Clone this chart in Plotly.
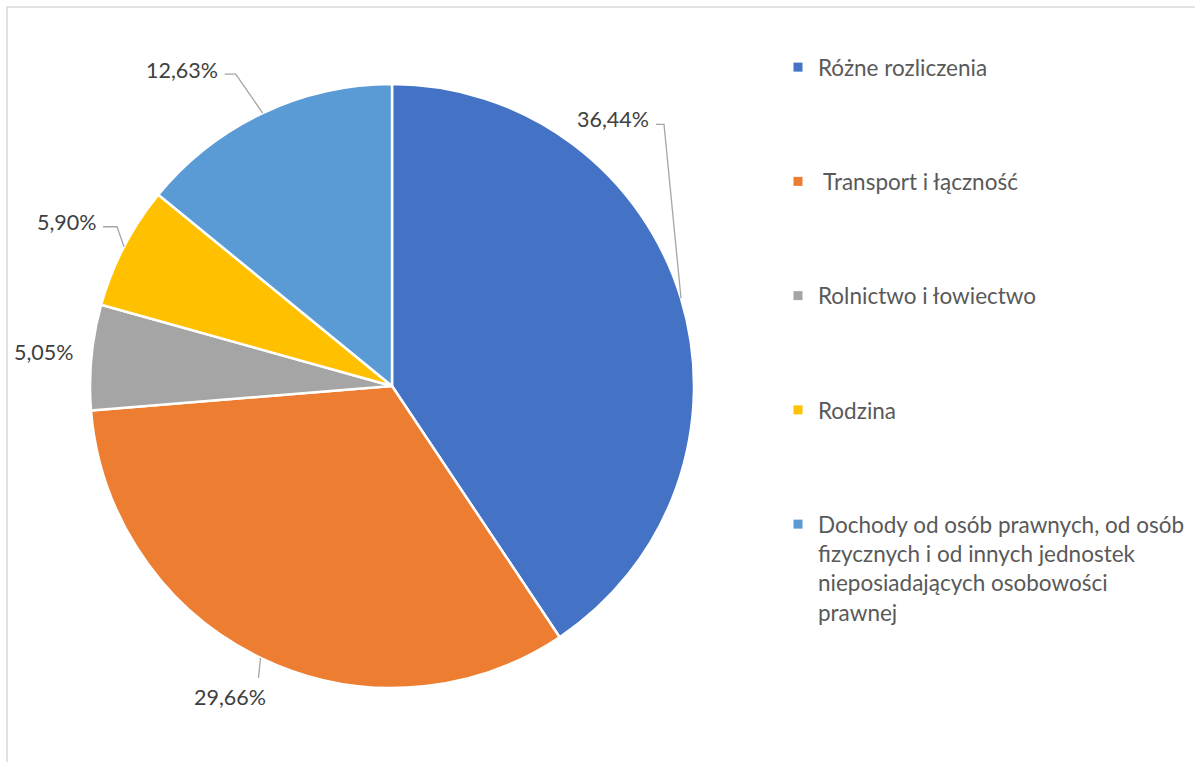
import math
import plotly.graph_objects as go

# ---- data ----
categories = [
    "Różne rozliczenia",
    " Transport i łączność",
    "Rolnictwo i łowiectwo",
    "Rodzina",
    "Dochody od osób prawnych, od osób<br>fizycznych i od innych jednostek<br>nieposiadających osobowości<br>prawnej",
]
values = [36.44, 29.66, 5.05, 5.90, 12.63]
colors = ["#4472C4", "#ED7D31", "#A5A5A5", "#FFC000", "#5B9BD5"]

# ---- layout constants (pixels) ----
W, H = 1195, 762
CX, CY, R = 392, 386, 302
FONT = "Lato"
LABEL_COLOR = "#404040"
LEGEND_COLOR = "#595959"
LINE_COLOR = "#A6A6A6"

# label placement relative to the slice's outer mid-point: (elbow, end, text pos, xanchor)
label_layout = [
    dict(elbow=(-17, -174), end=(-25, -174), text=(-30, -179), xanchor="right"),
    dict(elbow=(-2, 20), end=(-2, 20), text=(-31, 39), xanchor="center"),
    dict(elbow=None, end=None, text=(-15, -5), xanchor="right"),
    dict(elbow=(-7, -20), end=(-21, -20), text=(-25, -25), xanchor="right"),
    dict(elbow=(-27, -39), end=(-38, -39), text=(-43, -43), xanchor="right"),
]


def px(x):
    return x / W


def py(y):
    return 1 - y / H


fig = go.Figure()

fig.add_trace(go.Pie(
    labels=categories,
    values=values,
    sort=False,
    direction="clockwise",
    rotation=0,
    marker=dict(colors=colors, line=dict(color="white", width=2.5)),
    textinfo="none",
    showlegend=False,
    domain=dict(x=[px(CX - R), px(CX + R)], y=[py(CY + R), py(CY - R)]),
))

# legend entries
for i, (name, c) in enumerate(zip(categories, colors)):
    fig.add_trace(go.Scatter(
        x=[None], y=[None], mode="markers", name=name,
        marker=dict(symbol="square", size=9, color=c),
        legendgroup=str(i), showlegend=True,
    ))

# data labels with leader lines
total = sum(values)
cum = 0.0
annotations = []
shapes = []
for v, lay in zip(values, label_layout):
    mid = (cum + v / 2) / total * 2 * math.pi
    cum += v
    ex = CX + R * math.sin(mid)
    ey = CY - R * math.cos(mid)
    txt = f"{v:.2f}".replace(".", ",") + "%"
    tx, ty = ex + lay["text"][0], ey + lay["text"][1]
    annotations.append(dict(
        x=px(tx), y=py(ty), xref="paper", yref="paper", text=txt,
        showarrow=False, xanchor=lay["xanchor"], yanchor="middle",
        font=dict(family=FONT, size=21.5, color=LABEL_COLOR),
    ))
    if lay["elbow"] is not None:
        bx, by = ex + lay["elbow"][0], ey + lay["elbow"][1]
        nx, ny = ex + lay["end"][0], ey + lay["end"][1]
        path = f"M{px(ex)},{py(ey)} L{px(bx)},{py(by)} L{px(nx)},{py(ny)}"
        shapes.append(dict(type="path", xref="paper", yref="paper", path=path,
                           line=dict(color=LINE_COLOR, width=1.3)))

# outer frame
shapes.append(dict(type="rect", xref="paper", yref="paper",
                   x0=px(7), y0=py(775), x1=px(1210), y1=py(7),
                   line=dict(color="#D9D9D9", width=1.5), layer="below"))

fig.update_layout(
    width=W, height=H,
    margin=dict(l=0, r=0, t=0, b=0),
    paper_bgcolor="white", plot_bgcolor="white",
    xaxis=dict(visible=False), yaxis=dict(visible=False),
    annotations=annotations, shapes=shapes,
    legend=dict(
        x=px(778), y=py(46), xanchor="left", yanchor="top",
        traceorder="grouped", tracegroupgap=82, valign="top",
        font=dict(family=FONT, size=22.5, color=LEGEND_COLOR),
        bgcolor="rgba(0,0,0,0)",
    ),
)

fig.write_html("out.html", config={"displayModeBar": False},
               post_script="document.body.style.margin='0';")
